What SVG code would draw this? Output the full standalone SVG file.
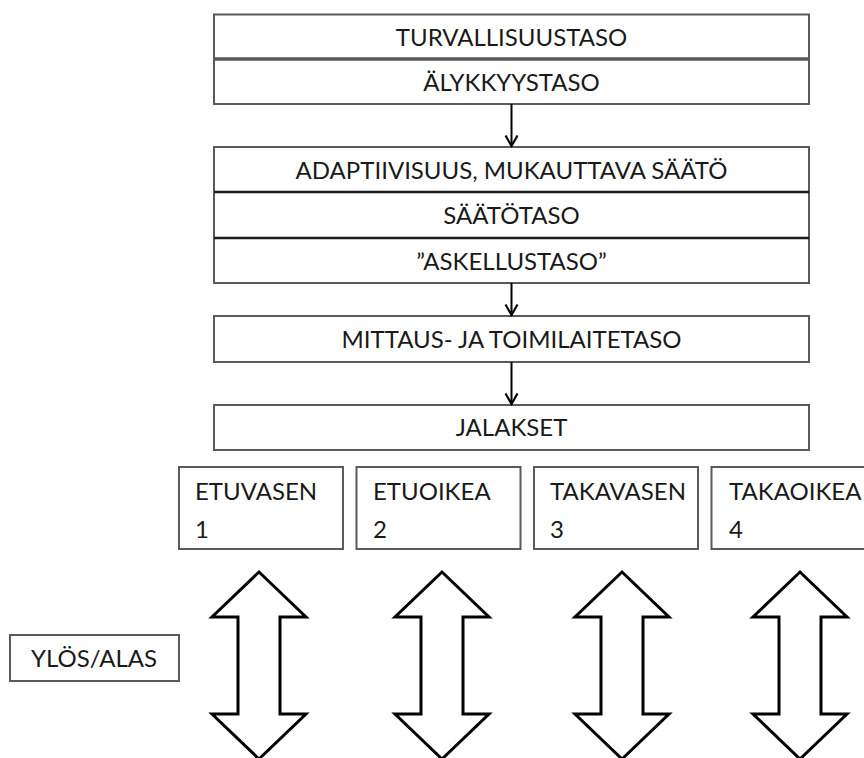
<svg xmlns="http://www.w3.org/2000/svg" width="864" height="758" viewBox="0 0 864 758">
  <defs>
    <style>
      .box { fill: #ffffff; stroke: #5a5a5a; stroke-width: 2; }
      .div-gray { stroke: #5a5a5a; stroke-width: 3.5; }
      .div-dark { stroke: #1a1a1a; stroke-width: 2.5; }
      .lbl { font-family: "Lato", "Liberation Sans", sans-serif; font-size: 24px; fill: #1a1a1a; }
      .mid { text-anchor: middle; }
      .conn { stroke: #000000; stroke-width: 2; fill: none; }
      .dbl { fill: #ffffff; stroke: #000000; stroke-width: 3; stroke-linejoin: miter; }
    </style>
    <!-- open V head, drawn pointing along +x so orient="auto" turns it with the line -->
    <marker id="vhead" viewBox="0 0 14 16" refX="12.5" refY="8" markerWidth="14" markerHeight="16" markerUnits="userSpaceOnUse" orient="auto">
      <path d="M2,2 L12.5,8 L2,14" fill="none" stroke="#000" stroke-width="2.2"/>
    </marker>
    <!-- double-headed up/down block arrow, apex at origin -->
    <path id="updown" d="M0,0 L47,45 L21,45 L21,142 L47,142 L0,187 L-47,142 L-21,142 L-21,45 L-47,45 Z"/>
  </defs>

  <!-- upper level stack -->
  <g id="n-turvallisuus">
    <rect class="box" x="214" y="14.5" width="595" height="89.5"/>
    <line class="div-gray" x1="214" y1="59" x2="809" y2="59"/>
    <text class="lbl mid" x="511.5" y="46">TURVALLISUUSTASO</text>
    <text class="lbl mid" x="511.5" y="90.5">ÄLYKKYYSTASO</text>
  </g>

  <g id="n-saato">
    <rect class="box" x="214" y="147" width="595" height="136"/>
    <line class="div-dark" x1="214" y1="192" x2="809" y2="192"/>
    <line class="div-dark" x1="214" y1="238" x2="809" y2="238"/>
    <text class="lbl mid" x="511.5" y="179">ADAPTIIVISUUS, MUKAUTTAVA SÄÄTÖ</text>
    <text class="lbl mid" x="511.5" y="224">SÄÄTÖTASO</text>
    <text class="lbl mid" x="511.5" y="269.5">”ASKELLUSTASO”</text>
  </g>

  <g id="n-mittaus">
    <rect class="box" x="214" y="316" width="595" height="46"/>
    <text class="lbl mid" x="511.5" y="347.5">MITTAUS- JA TOIMILAITETASO</text>
  </g>

  <g id="n-jalakset">
    <rect class="box" x="214" y="405" width="595" height="45"/>
    <text class="lbl mid" x="511.5" y="436">JALAKSET</text>
  </g>

  <!-- legs -->
  <g id="n-leg1">
    <rect class="box" x="179" y="467" width="164" height="82"/>
    <text class="lbl" x="195" y="500">ETUVASEN</text>
    <text class="lbl" x="195" y="538">1</text>
  </g>
  <g id="n-leg2">
    <rect class="box" x="356.5" y="467" width="164" height="82"/>
    <text class="lbl" x="373" y="500">ETUOIKEA</text>
    <text class="lbl" x="373" y="538">2</text>
  </g>
  <g id="n-leg3">
    <rect class="box" x="534" y="467" width="164" height="82"/>
    <text class="lbl" x="550" y="500">TAKAVASEN</text>
    <text class="lbl" x="550" y="538">3</text>
  </g>
  <g id="n-leg4">
    <rect class="box" x="711.5" y="467" width="164" height="82"/>
    <text class="lbl" x="729" y="500">TAKAOIKEA</text>
    <text class="lbl" x="729" y="538">4</text>
  </g>

  <g id="n-ylosalas">
    <rect class="box" x="10" y="635" width="169" height="46"/>
    <text class="lbl mid" x="94" y="667">YLÖS/ALAS</text>
  </g>

  <!-- up/down motion arrows -->
  <g id="n-motion">
    <use href="#updown" class="dbl" x="259" y="572"/>
    <use href="#updown" class="dbl" x="442" y="572"/>
    <use href="#updown" class="dbl" x="622" y="572"/>
    <use href="#updown" class="dbl" x="800" y="572"/>
  </g>

  <!-- connectors -->
  <g id="connectors">
    <line class="conn" x1="511.5" y1="104" x2="511.5" y2="146" marker-end="url(#vhead)"/>
    <line class="conn" x1="511.5" y1="283" x2="511.5" y2="315" marker-end="url(#vhead)"/>
    <line class="conn" x1="511.5" y1="362" x2="511.5" y2="404" marker-end="url(#vhead)"/>
  </g>
</svg>
